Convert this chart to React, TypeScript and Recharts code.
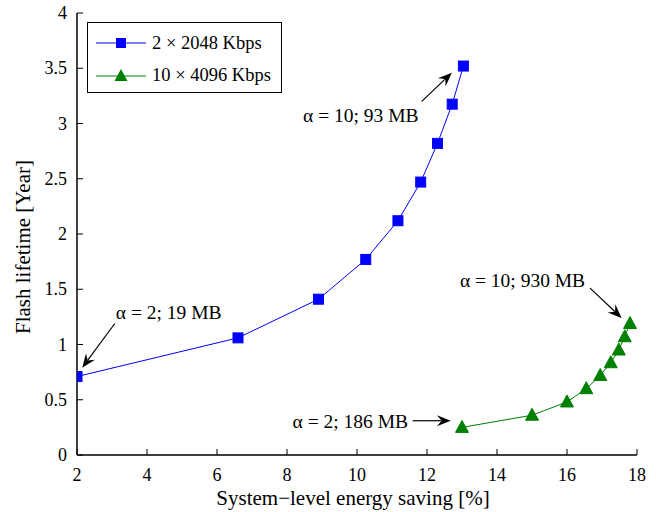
import {
  ComposedChart,
  Line,
  XAxis,
  YAxis,
  Legend,
  ReferenceLine,
  ReferenceDot,
} from 'recharts';

// 2 x 2048 Kbps (alpha = 2 ... 10)
const savingLow = [2.0, 6.6, 8.9, 10.25, 11.17, 11.82, 12.3, 12.72, 13.04];
const lifetimeLow = [0.71, 1.06, 1.41, 1.77, 2.12, 2.47, 2.82, 3.175, 3.52];

// 10 x 4096 Kbps (alpha = 2 ... 10)
const savingHigh = [13.0, 15.0, 16.0, 16.55, 16.95, 17.25, 17.48, 17.65, 17.8];
const lifetimeHigh = [0.25, 0.36, 0.48, 0.6, 0.72, 0.835, 0.95, 1.07, 1.19];

const xTicks = [2, 4, 6, 8, 10, 12, 14, 16, 18];
const yTicks = [0, 0.5, 1, 1.5, 2, 2.5, 3, 3.5, 4];

const seriesNames = ['2 \u00d7 2048 Kbps', '10 \u00d7 4096 Kbps'];

// annotation text anchor (left edge, vertical middle) and arrow tail -> head
const notes = [
  { text: '\u03b1 = 10; 93 MB', tx: 8.46, ty: 3.08, from: [11.85, 3.2], to: [12.71, 3.46] },
  { text: '\u03b1 = 2; 19 MB', tx: 3.11, ty: 1.29, from: [3.08, 1.19], to: [2.15, 0.79] },
  { text: '\u03b1 = 10; 930 MB', tx: 12.94, ty: 1.58, from: [16.66, 1.51], to: [17.56, 1.24] },
  { text: '\u03b1 = 2; 186 MB', tx: 8.16, ty: 0.31, from: [11.59, 0.31], to: [12.68, 0.31] },
];

const lowData = savingLow.map((x, i) => ({ x, y: lifetimeLow[i] }));
const highData = savingHigh.map((x, i) => ({ x, y: lifetimeHigh[i] }));

const FONT = '"Liberation Serif", "Times New Roman", serif';
const BLUE = '#0000ff';
const GREEN = '#008000';

const BottomTick = ({ x, y, payload }: any) => (
  <g>
    <line x1={x} y1={y} x2={x} y2={y - 6} stroke="#000" />
    <text x={x} y={y + 26} textAnchor="middle" fontFamily={FONT} fontSize={18} fill="#000">
      {payload.value}
    </text>
  </g>
);

const TopTick = ({ x, y }: any) => <line x1={x} y1={y} x2={x} y2={y + 6} stroke="#000" />;

const LeftTick = ({ x, y, payload }: any) => (
  <g>
    <line x1={x} y1={y} x2={x + 6} y2={y} stroke="#000" />
    <text x={x - 10} y={y + 6} textAnchor="end" fontFamily={FONT} fontSize={18} fill="#000">
      {payload.value}
    </text>
  </g>
);

const RightTick = ({ x, y }: any) => <line x1={x} y1={y} x2={x - 6} y2={y} stroke="#000" />;

const SquareDot = ({ cx, cy }: any) => (
  <rect x={cx - 5} y={cy - 5} width={10} height={10} fill={BLUE} stroke={BLUE} />
);

const TriangleDot = ({ cx, cy }: any) => (
  <path d={`M${cx},${cy - 7}L${cx + 6.5},${cy + 5}L${cx - 6.5},${cy + 5}Z`} fill={GREEN} stroke={GREEN} />
);

const Arrow = (props: any) => {
  const { x1, y1, x2, y2 } = props;
  const a = Math.atan2(y2 - y1, x2 - x1);
  const len = 15;
  const w = 0.38;
  const p1 = [x2 - len * Math.cos(a - w), y2 - len * Math.sin(a - w)];
  const p2 = [x2 - len * Math.cos(a + w), y2 - len * Math.sin(a + w)];
  const pm = [x2 - len * 0.6 * Math.cos(a), y2 - len * 0.6 * Math.sin(a)];
  return (
    <g>
      <line x1={x1} y1={y1} x2={pm[0]} y2={pm[1]} stroke="#000" strokeWidth={1.2} />
      <path d={`M${x2},${y2}L${p1[0]},${p1[1]}L${pm[0]},${pm[1]}L${p2[0]},${p2[1]}Z`} fill="#000" />
    </g>
  );
};

const NoteText = (text: string) => (props: any) => (
  <text x={props.cx} y={props.cy + 7} fontFamily={FONT} fontSize={19.5} fill="#000">
    {text}
  </text>
);

const YLabel = ({ viewBox }: any) => {
  const cy = viewBox.y + viewBox.height / 2 + 13;
  return (
    <text
      x={23}
      y={cy}
      transform={`rotate(-90, 23, ${cy})`}
      textAnchor="middle"
      dominantBaseline="central"
      fontFamily={FONT}
      fontSize={21}
      fill="#000"
    >
      Flash lifetime [Year]
    </text>
  );
};

const XLabel = ({ viewBox }: any) => (
  <text
    x={viewBox.x + viewBox.width / 2 - 4}
    y={505}
    textAnchor="middle"
    fontFamily={FONT}
    fontSize={21}
    fill="#000"
  >
    System{'\u2212'}level energy saving [%]
  </text>
);

const LegendBox = () => (
  <div
    style={{
      width: 195,
      height: 71,
      border: '1.5px solid #000',
      background: '#fff',
      boxSizing: 'border-box',
      fontFamily: FONT,
      fontSize: 18.5,
      position: 'relative',
    }}
  >
    {seriesNames.map((name, i) => (
      <div
        key={name}
        style={{
          position: 'absolute',
          left: 0,
          top: i === 0 ? 20 - 12 : 52.6 - 12,
          height: 24,
          display: 'flex',
          alignItems: 'center',
          whiteSpace: 'nowrap',
        }}
      >
        <svg width={62} height={24} style={{ marginLeft: 8, flex: 'none' }}>
          <line x1={0} y1={12} x2={50} y2={12} stroke={i === 0 ? BLUE : GREEN} />
          {i === 0 ? (
            <rect x={20} y={7} width={10} height={10} fill={BLUE} />
          ) : (
            <path d="M25,5L31.5,17L18.5,17Z" fill={GREEN} />
          )}
        </svg>
        <span style={{ marginLeft: -6 }}>{name}</span>
      </div>
    ))}
  </div>
);

export default function App() {
  return (
    <div style={{ position: 'absolute', left: 0, top: 0, background: '#fff' }}>
      <ComposedChart width={656} height={512} margin={{ top: 13, right: 19, left: 0, bottom: 0 }}>
        <XAxis
          xAxisId={0}
          type="number"
          dataKey="x"
          domain={[2, 18]}
          ticks={xTicks}
          interval={0}
          tickSize={0}
          tickMargin={0}
          tick={<BottomTick />}
          axisLine={{ stroke: '#000', strokeWidth: 1.5 }}
          height={57}
          allowDataOverflow
          label={<XLabel />}
        />
        <XAxis
          xAxisId="top"
          orientation="top"
          type="number"
          dataKey="x"
          domain={[2, 18]}
          ticks={xTicks}
          interval={0}
          tickSize={0}
          tickMargin={0}
          tick={<TopTick />}
          axisLine={{ stroke: '#000', strokeWidth: 1.5 }}
          height={0}
          allowDataOverflow
        />
        <YAxis
          yAxisId={0}
          type="number"
          domain={[0, 4]}
          ticks={yTicks}
          interval={0}
          tickSize={0}
          tickMargin={0}
          tick={<LeftTick />}
          axisLine={{ stroke: '#000', strokeWidth: 1.5 }}
          width={77}
          allowDataOverflow
          label={<YLabel />}
        />
        <YAxis
          yAxisId="right"
          orientation="right"
          type="number"
          domain={[0, 4]}
          ticks={yTicks}
          interval={0}
          tickSize={0}
          tickMargin={0}
          tick={<RightTick />}
          axisLine={{ stroke: '#000', strokeWidth: 1.5 }}
          width={0}
          allowDataOverflow
        />
        <Legend
          layout="horizontal"
          verticalAlign="middle"
          align="center"
          content={<LegendBox />}
          wrapperStyle={{ position: 'absolute', left: 87, top: 22, width: 195, height: 71 }}
        />
        <Line
          data={lowData}
          dataKey="y"
          name={seriesNames[0]}
          type="linear"
          stroke={BLUE}
          strokeWidth={1}
          dot={<SquareDot />}
          activeDot={false}
          isAnimationActive={false}
        />
        <Line
          data={highData}
          dataKey="y"
          name={seriesNames[1]}
          type="linear"
          stroke={GREEN}
          strokeWidth={1}
          dot={<TriangleDot />}
          activeDot={false}
          isAnimationActive={false}
        />
        {notes.map((n) => (
          <ReferenceLine
            key={'a' + n.text}
            segment={[
              { x: n.from[0], y: n.from[1] },
              { x: n.to[0], y: n.to[1] },
            ]}
            ifOverflow="visible"
            shape={Arrow}
          />
        ))}
        {notes.map((n) => (
          <ReferenceDot
            key={'t' + n.text}
            x={n.tx}
            y={n.ty}
            r={0}
            ifOverflow="visible"
            shape={NoteText(n.text)}
          />
        ))}
      </ComposedChart>
    </div>
  );
}
